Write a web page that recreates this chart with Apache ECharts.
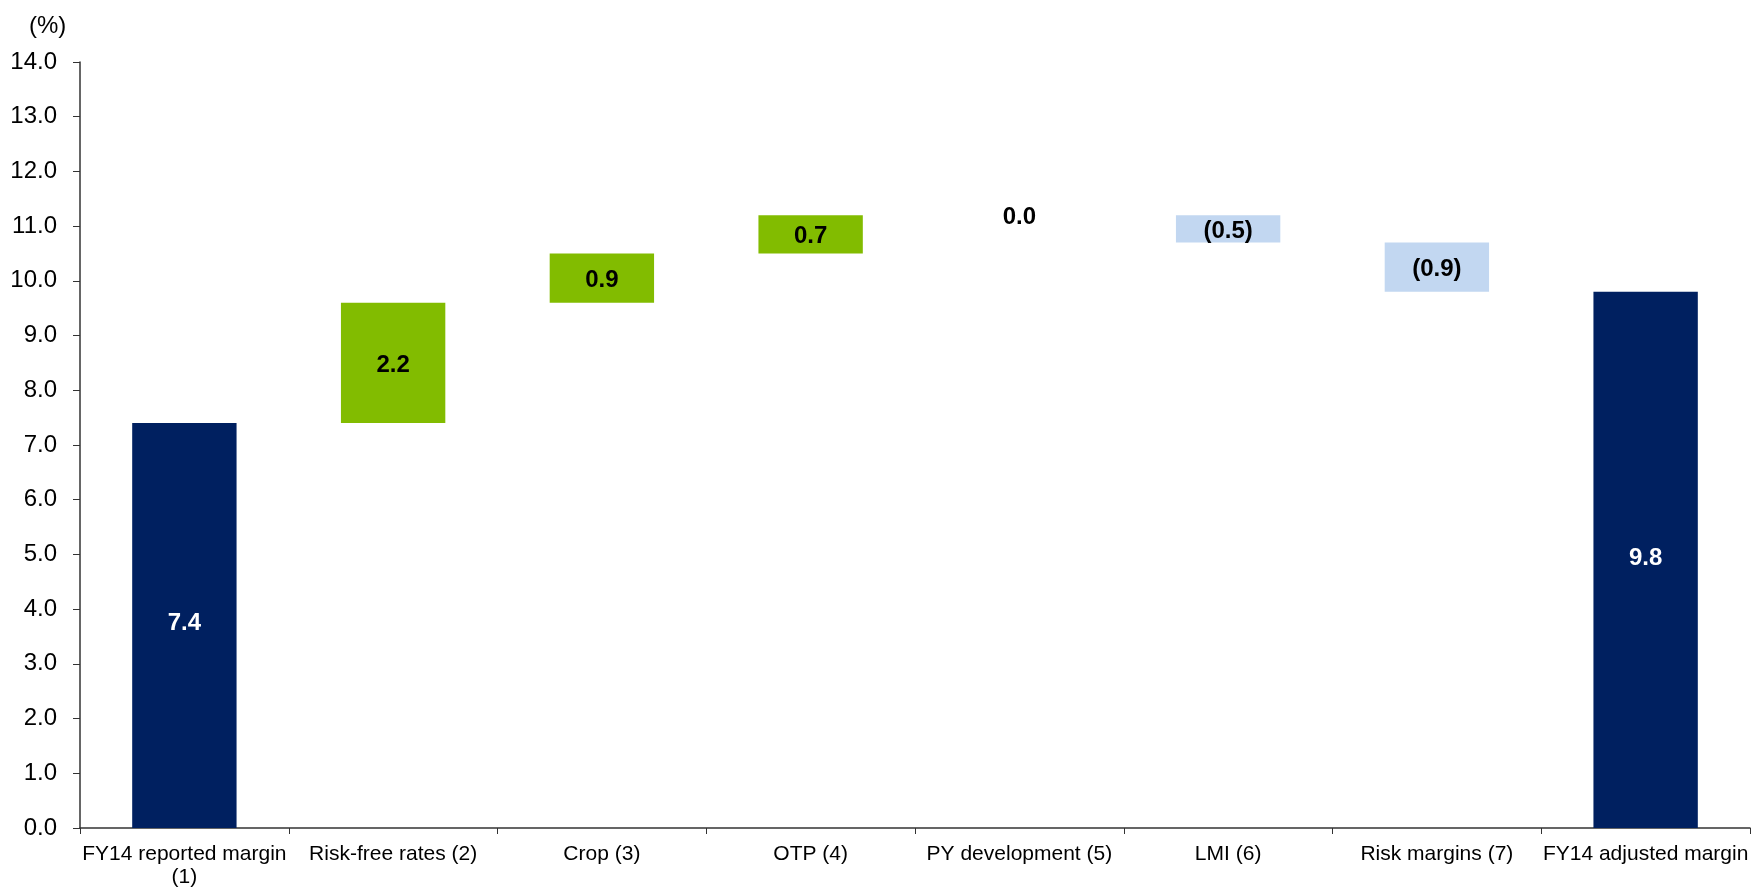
<!DOCTYPE html>
<html>
<head>
<meta charset="utf-8">
<script src="https://cdn.jsdelivr.net/npm/echarts@6/dist/echarts.min.js"></script>
<style>
  html, body { margin: 0; padding: 0; background: #fff; }
  #chart { width: 1752px; height: 889px; }
</style>
</head>
<body>
<div id="chart"></div>
<script>
const categories = [
  "FY14 reported margin\n(1)",
  "Risk-free rates (2)",
  "Crop (3)",
  "OTP (4)",
  "PY development (5)",
  "LMI (6)",
  "Risk margins (7)",
  "FY14 adjusted margin",
];
const changes = [7.4, 2.2, 0.9, 0.7, 0.0, -0.5, -0.9, 9.8];
const kinds = ["total", "up", "up", "up", "up", "down", "down", "total"];
const yMin = 0;
const yMax = 14;
const yStep = 1;

const COLORS = { total: "#002060", up: "#82BC00", down: "#C2D7F1" };
const FONT = "Liberation Sans, Arial, Helvetica, sans-serif";

// build the invisible base and the visible piece of each step
const bases = [];
const heights = [];
let running = 0;
changes.forEach((d, i) => {
  if (kinds[i] === "total") {
    bases.push(0);
    heights.push(d);
    running = d;
  } else if (d >= 0) {
    bases.push(running);
    heights.push(d);
    running = Math.round((running + d) * 10) / 10;
  } else {
    running = Math.round((running + d) * 10) / 10;
    bases.push(running);
    heights.push(-d);
  }
});

const fmt = (v) => (v < 0 ? "(" + Math.abs(v).toFixed(1) + ")" : v.toFixed(1));

const chart = echarts.init(document.getElementById("chart"));
chart.setOption({
  animation: false,
  title: {
    text: "(%)",
    left: 24,
    top: 9,
    textStyle: { fontFamily: FONT, fontSize: 24, fontWeight: "normal", color: "#000" },
  },
  grid: { left: 80, right: 2, top: 62, bottom: 60, containLabel: false },
  xAxis: {
    type: "category",
    data: categories,
    axisLine: { lineStyle: { color: "#333", width: 1.5 } },
    axisTick: { show: true, length: 6, lineStyle: { color: "#333" } },
    axisLabel: {
      interval: 0,
      margin: 15,
      fontFamily: FONT,
      fontSize: 21,
      color: "#000",
      lineHeight: 23,
    },
  },
  yAxis: {
    type: "value",
    min: yMin,
    max: yMax,
    interval: yStep,
    splitLine: { show: false },
    axisLine: { show: true, lineStyle: { color: "#333", width: 1.5 } },
    axisTick: { show: true, length: 7, lineStyle: { color: "#333" } },
    axisLabel: {
      margin: 23,
      fontFamily: FONT,
      fontSize: 24,
      color: "#000",
      formatter: (v) => v.toFixed(1),
    },
  },
  series: [
    {
      type: "bar",
      stack: "w",
      barWidth: "50%",
      itemStyle: { color: "transparent" },
      silent: true,
      data: bases,
    },
    {
      type: "bar",
      stack: "w",
      barWidth: "50%",
      data: heights.map((h, i) => ({
        value: h,
        itemStyle: { color: COLORS[kinds[i]] },
        label: {
          show: true,
          position: "inside",
          offset: [0, kinds[i] === "total" ? -2 : 2],
          formatter: () => fmt(changes[i]),
          fontFamily: FONT,
          fontSize: 24,
          fontWeight: "bold",
          color: kinds[i] === "total" ? "#fff" : "#000",
        },
      })),
    },
  ],
});
</script>
</body>
</html>
